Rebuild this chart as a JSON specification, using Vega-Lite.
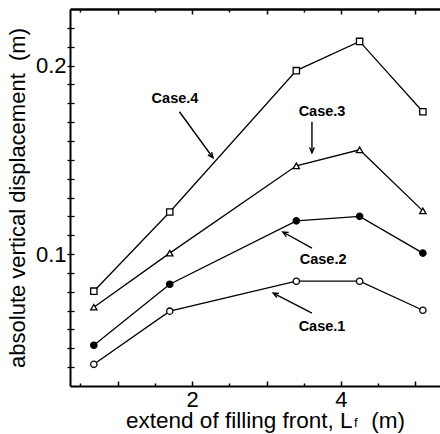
{
  "$schema": "https://vega.github.io/schema/vega-lite/v6.json",
  "width": 370,
  "height": 377,
  "autosize": {"type": "none"},
  "padding": {"left": 70, "top": 9, "right": 0, "bottom": 48},
  "background": "white",
  "config": {
    "view": {"stroke": null},
    "font": "Liberation Sans",
    "axis": {"grid": false, "domainColor": "black", "tickColor": "black", "tickOpacity": 1, "labelColor": "black", "titleColor": "black", "labelFont": "Liberation Sans", "titleFont": "Liberation Sans", "titleFontWeight": "normal"}
  },
  "resolve": {"axis": {"x": "independent", "y": "independent"}},
  "datasets": {
    "series": [
      {"x": 0.68, "y": 0.0415, "case": "Case.1"},
      {"x": 1.7, "y": 0.0697, "case": "Case.1"},
      {"x": 3.4, "y": 0.0856, "case": "Case.1"},
      {"x": 4.25, "y": 0.0856, "case": "Case.1"},
      {"x": 5.1, "y": 0.0702, "case": "Case.1"},
      {"x": 0.68, "y": 0.0516, "case": "Case.2"},
      {"x": 1.7, "y": 0.084, "case": "Case.2"},
      {"x": 3.4, "y": 0.1176, "case": "Case.2"},
      {"x": 4.25, "y": 0.12, "case": "Case.2"},
      {"x": 5.1, "y": 0.1005, "case": "Case.2"},
      {"x": 0.68, "y": 0.0718, "case": "Case.3"},
      {"x": 1.7, "y": 0.1005, "case": "Case.3"},
      {"x": 3.4, "y": 0.1468, "case": "Case.3"},
      {"x": 4.25, "y": 0.1553, "case": "Case.3"},
      {"x": 5.1, "y": 0.1229, "case": "Case.3"},
      {"x": 0.68, "y": 0.0803, "case": "Case.4"},
      {"x": 1.7, "y": 0.1223, "case": "Case.4"},
      {"x": 3.4, "y": 0.1973, "case": "Case.4"},
      {"x": 4.25, "y": 0.2128, "case": "Case.4"},
      {"x": 5.1, "y": 0.1755, "case": "Case.4"}
    ],
    "notes": [
      {"label": "Case.4", "tx": 1.77, "ty": 0.1824, "ax": 1.83, "ay": 0.1755, "bx": 2.28, "by": 0.1511},
      {"label": "Case.3", "tx": 3.745, "ty": 0.1755, "ax": 3.61, "ay": 0.1702, "bx": 3.61, "by": 0.1537},
      {"label": "Case.2", "tx": 3.76, "ty": 0.0968, "ax": 3.61, "ay": 0.1032, "bx": 3.22, "by": 0.1117},
      {"label": "Case.1", "tx": 3.745, "ty": 0.0612, "ax": 3.61, "ay": 0.0686, "bx": 3.09, "by": 0.0793}
    ]
  },
  "layer": [
    {
      "data": {"name": "series"},
      "mark": {"type": "line", "color": "black", "strokeWidth": 1.3},
      "encoding": {
        "x": {
          "field": "x", "type": "quantitative",
          "scale": {"domain": [0.36, 5.33], "nice": false, "zero": false},
          "axis": {
            "orient": "bottom",
            "values": [2, 4],
            "format": "d",
            "ticks": false,
            "domainWidth": 2,
            "labelFontSize": 22,
            "labelPadding": 3,
            "title": "extend of filling front, L\u00a0\u00a0\u00a0(m)",
            "titleFontSize": 22.5,
            "titleBaseline": "alphabetic",
            "titleY": 41,
            "titleX": 195
          }
        },
        "y": {
          "field": "y", "type": "quantitative",
          "scale": {"domain": [0.03, 0.23], "nice": false, "zero": false},
          "axis": {
            "values": [0.04, 0.05, 0.06, 0.07, 0.08, 0.09, 0.1, 0.11, 0.12, 0.13, 0.14, 0.15, 0.16, 0.17, 0.18, 0.19, 0.2, 0.21, 0.22],
            "labelExpr": "abs(datum.value - 0.1) < 0.001 ? '0.1' : abs(datum.value - 0.2) < 0.001 ? '0.2' : ''",
            "labelOverlap": false,
            "ticks": true,
            "tickSize": 3,
            "tickWidth": 1.3,
            "domainWidth": 2,
            "labelFontSize": 22,
            "labelPadding": 1,
            "title": "absolute vertical displacement\u00a0\u00a0(m)",
            "titleFontSize": 22,
            "titlePadding": 6
          }
        },
        "detail": {"field": "case"}
      }
    },
    {
      "data": {"name": "series"},
      "mark": {"type": "point", "filled": false, "opacity": 1},
      "encoding": {
        "x": {"field": "x", "type": "quantitative", "axis": {"orient": "bottom", "values": [1, 2, 3, 4, 5], "domain": false, "labels": false, "title": null, "ticks": true, "tickSize": 5, "tickWidth": 1.5, "offset": -5}},
        "y": {"field": "y", "type": "quantitative", "axis": {"orient": "left", "values": [0.04, 0.05, 0.06, 0.07, 0.08, 0.09, 0.1, 0.11, 0.12, 0.13, 0.14, 0.15, 0.16, 0.17, 0.18, 0.19, 0.2, 0.21, 0.22], "domain": false, "labels": false, "title": null, "ticks": true, "tickSize": 4, "tickWidth": 1.3, "offset": -4}},
        "shape": {"field": "case", "type": "nominal", "scale": {"domain": ["Case.1", "Case.2", "Case.3", "Case.4"], "range": ["circle", "circle", "triangle-up", "square"]}, "legend": null},
        "fill": {"field": "case", "type": "nominal", "scale": {"domain": ["Case.1", "Case.2", "Case.3", "Case.4"], "range": ["white", "black", "white", "white"]}, "legend": null},
        "stroke": {"value": "black"},
        "strokeWidth": {"value": 1.3},
        "size": {"value": 40}
      }
    },
    {
      "data": {"name": "notes"},
      "mark": {"type": "rule", "color": "black", "strokeWidth": 1.4},
      "encoding": {
        "x": {"field": "ax", "type": "quantitative", "axis": {"orient": "bottom", "values": [0.5, 1.5, 2.5, 3.5, 4.5], "domain": false, "labels": false, "title": null, "ticks": true, "tickSize": 3, "tickWidth": 1.5, "offset": -3}},
        "y": {"field": "ay", "type": "quantitative", "axis": null},
        "x2": {"field": "bx"},
        "y2": {"field": "by"}
      }
    },
    {
      "data": {"name": "notes"},
      "mark": {"type": "point", "shape": "M -0.45 1 L 0 0 L 0.45 1", "filled": false, "stroke": "black", "strokeWidth": 1.4, "size": 110, "opacity": 1},
      "encoding": {
        "x": {"field": "bx", "type": "quantitative", "axis": {"orient": "top", "ticks": false, "labels": false, "title": null, "domainWidth": 2.5}},
        "y": {"field": "by", "type": "quantitative", "axis": null},
        "angle": {"field": "label", "type": "nominal", "scale": {"type": "ordinal", "domain": ["Case.1", "Case.2", "Case.3", "Case.4"], "range": [297, 299, 180, 143]}, "legend": null}
      }
    },
    {
      "data": {"name": "notes"},
      "mark": {"type": "text", "fontSize": 14.5, "fontWeight": "bold", "color": "black", "font": "Liberation Sans"},
      "encoding": {
        "x": {"field": "tx", "type": "quantitative", "axis": {"orient": "top", "values": [1, 2, 3, 4, 5], "domain": false, "labels": false, "title": null, "ticks": true, "tickSize": 5, "tickWidth": 1.5, "offset": -5}},
        "y": {"field": "ty", "type": "quantitative", "axis": null},
        "text": {"field": "label"}
      }
    },
    {
      "data": {"values": [{"sub": "f"}]},
      "mark": {"type": "text", "fontSize": 13, "color": "black", "font": "Liberation Sans"},
      "encoding": {
        "x": {"datum": 4.2, "type": "quantitative", "axis": {"orient": "top", "values": [0.5, 1.5, 2.5, 3.5, 4.5], "domain": false, "labels": false, "title": null, "ticks": true, "tickSize": 3, "tickWidth": 1.5, "offset": -3}},
        "y": {"datum": 0.0105, "type": "quantitative", "axis": null},
        "text": {"field": "sub"}
      }
    }
  ]
}
